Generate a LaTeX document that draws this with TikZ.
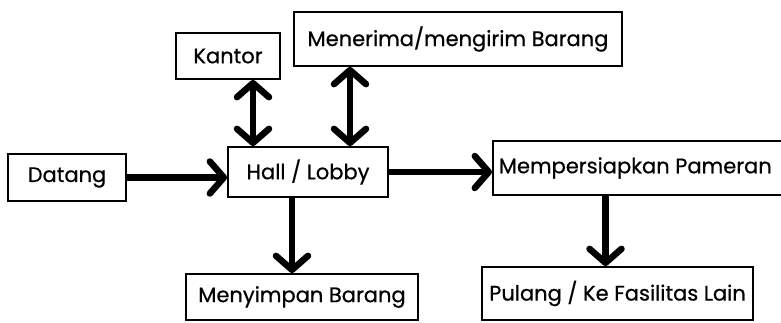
\documentclass[tikz,border=0pt]{standalone}
\usepackage{fontspec}
\setmainfont{Poppins}
\newfontfamily\boxfont{Poppins}[FakeBold=0.6]
\usetikzlibrary{arrows.meta}
\begin{document}
\begin{tikzpicture}[x=1pt,y=-1pt,
  box/.style={draw=black, line width=1.8pt, inner sep=0pt, font=\boxfont\fontsize{21}{25}\selectfont},
  arr/.style={line width=6.5pt, -{Straight Barb[length=14pt,width=32pt,round]}},
  darr/.style={line width=6.5pt, {Straight Barb[length=14pt,width=32pt,round]}-{Straight Barb[length=14pt,width=32pt,round]}}]
\useasboundingbox (0,0) rectangle (781,322);
\fill[white] (0,0) rectangle (781,322);
\node[box, minimum width=104pt, minimum height=46pt] (kantor) at (228,56) {Kantor};
\node[box, minimum width=328pt, minimum height=54pt] (terima) at (458,39) {Menerima/mengirim Barang};
\node[box, minimum width=118pt, minimum height=47pt] (datang) at (67,177.5) {Datang};
\node[box, minimum width=160pt, minimum height=50pt] (hall) at (308,172) {Hall / Lobby};
\node[box, anchor=west, minimum height=54pt, inner xsep=6pt] (mp) at (492,168) {Mempersiapkan Pameran\hspace*{30pt}};
\node[box, minimum width=232pt, minimum height=46pt] (simpan) at (302,297) {Menyimpan Barang};
\node[box, minimum width=271pt, minimum height=53pt] (pulang) at (617.5,293.5) {Pulang / Ke Fasilitas Lain};
\draw[darr] ([xshift=25pt]kantor.south) -- ([xshift=25pt]kantor.south |- hall.north);
\draw[darr] ([xshift=-108pt]terima.south) -- ([xshift=-108pt]terima.south |- hall.north);
\draw[arr] (datang.east) -- (datang.east -| hall.west);
\draw[arr] (hall.east) -- (hall.east -| mp.west);
\draw[arr] ([xshift=-16pt]hall.south) -- ([xshift=-16pt]hall.south |- simpan.north);
\draw[arr] ([xshift=-12pt]pulang.north |- mp.south) -- ([xshift=-12pt]pulang.north);
\end{tikzpicture}
\end{document}
